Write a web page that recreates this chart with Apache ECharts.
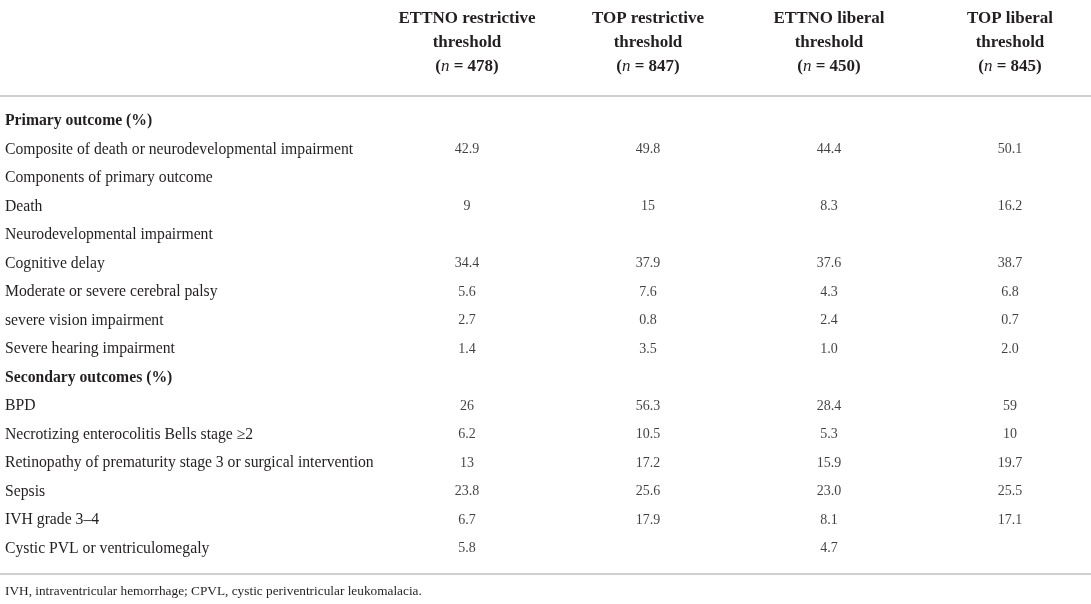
<!DOCTYPE html>
<html>
<head>
<meta charset="utf-8">
<script src="https://cdn.jsdelivr.net/npm/echarts@6/dist/echarts.min.js"></script>
<style>
html,body{margin:0;padding:0;background:#fff;}
#c{width:1091px;height:604px;}
</style>
</head>
<body>
<div id="c"></div>
<script>
const rowLabels = [
  'Primary outcome (%)',
  'Composite of death or neurodevelopmental impairment',
  'Components of primary outcome',
  'Death',
  'Neurodevelopmental impairment',
  'Cognitive delay',
  'Moderate or severe cerebral palsy',
  'severe vision impairment',
  'Severe hearing impairment',
  'Secondary outcomes (%)',
  'BPD',
  'Necrotizing enterocolitis Bells stage \u22652',
  'Retinopathy of prematurity stage 3 or surgical intervention',
  'Sepsis',
  'IVH grade 3\u20134',
  'Cystic PVL or ventriculomegaly'
];
const boldRows = ['Primary outcome (%)', 'Secondary outcomes (%)'];
const colTitles = ['ETTNO restrictive', 'TOP restrictive', 'ETTNO liberal', 'TOP liberal'];
const colN = [478, 847, 450, 845];
const ettnoRestrictive = ['', '42.9', '', '9', '', '34.4', '5.6', '2.7', '1.4', '', '26', '6.2', '13', '23.8', '6.7', '5.8'];
const topRestrictive   = ['', '49.8', '', '15', '', '37.9', '7.6', '0.8', '3.5', '', '56.3', '10.5', '17.2', '25.6', '17.9', ''];
const ettnoLiberal     = ['', '44.4', '', '8.3', '', '37.6', '4.3', '2.4', '1.0', '', '28.4', '5.3', '15.9', '23.0', '8.1', '4.7'];
const topLiberal       = ['', '50.1', '', '16.2', '', '38.7', '6.8', '0.7', '2.0', '', '59', '10', '19.7', '25.5', '17.1', ''];
const footnote = 'IVH, intraventricular hemorrhage; CPVL, cystic periventricular leukomalacia.';

const columns = [ettnoRestrictive, topRestrictive, ettnoLiberal, topLiberal];
const SERIF = '"Liberation Serif", "DejaVu Serif", serif';
const TXT = '#231f20';

const chart = echarts.init(document.getElementById('c'), null, {renderer: 'canvas'});

const series = columns.map((col, ci) => ({
  type: 'scatter',
  symbolSize: 0,
  silent: true,
  data: col.map((v, ri) => v === '' ? null : { value: [colTitles[ci], rowLabels[ri]], txt: v }),
  label: {
    show: true,
    position: 'inside',
    formatter: p => p.data.txt,
    fontFamily: SERIF,
    fontSize: 14,
    color: '#111'
  }
}));

chart.setOption({
  animation: false,
  backgroundColor: '#fff',
  grid: { left: 467, right: 81, top: 107, bottom: 41 },
  xAxis: {
    type: 'category',
    position: 'top',
    data: colTitles,
    boundaryGap: false,
    axisLine: { show: false },
    axisTick: { show: false },
    splitLine: { show: false },
    axisLabel: {
      interval: 0,
      margin: 28,
      formatter: (v, i) => '{h|' + v + '}\n{h|threshold}\n{h|(}{i|n}{h| = ' + colN[i] + ')}',
      rich: {
        h: { fontFamily: SERIF, fontWeight: 'bold', fontSize: 17, lineHeight: 24, color: TXT },
        i: { fontFamily: SERIF, fontStyle: 'italic', fontSize: 17, lineHeight: 24, color: TXT }
      }
    }
  },
  yAxis: {
    type: 'category',
    inverse: true,
    data: rowLabels,
    axisLine: { show: false },
    axisTick: { show: false },
    splitLine: { show: false },
    axisLabel: {
      interval: 0,
      align: 'left',
      margin: 462,
      formatter: v => boldRows.includes(v) ? '{b|' + v + '}' : '{n|' + v + '}',
      rich: {
        b: { fontFamily: SERIF, fontWeight: 'bold', fontSize: 15.7, color: TXT },
        n: { fontFamily: SERIF, fontSize: 15.7, color: TXT }
      }
    }
  },
  series: series,
  graphic: [
    { type: 'rect', shape: { x: 0, y: 95, width: 1091, height: 2 }, style: { fill: '#cfcfcf' }, silent: true },
    { type: 'rect', shape: { x: 0, y: 573, width: 1091, height: 2 }, style: { fill: '#cfcfcf' }, silent: true },
    { type: 'text', left: 5, top: 585, style: { text: footnote, font: '13.3px ' + SERIF, fill: TXT }, silent: true }
  ]
});
</script>
</body>
</html>
